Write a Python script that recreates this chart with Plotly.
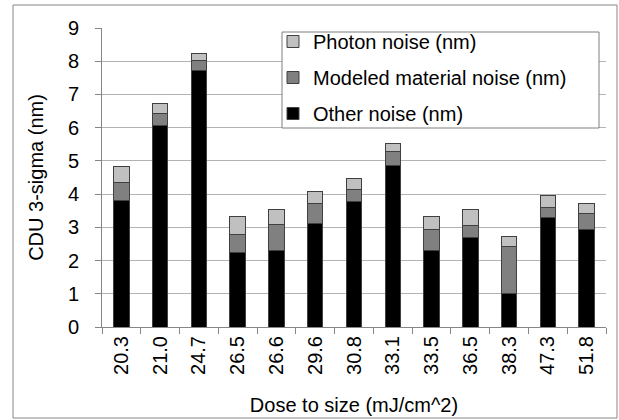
import plotly.graph_objects as go

categories = ["20.3", "21.0", "24.7", "26.5", "26.6", "29.6", "30.8", "33.1", "33.5", "36.5", "38.3", "47.3", "51.8"]
other_noise = [3.82, 6.07, 7.71, 2.23, 2.31, 3.13, 3.77, 4.86, 2.31, 2.68, 1.01, 3.31, 2.94]
material_noise = [0.53, 0.35, 0.30, 0.56, 0.77, 0.60, 0.36, 0.41, 0.62, 0.37, 1.40, 0.30, 0.49]
photon_noise = [0.48, 0.30, 0.22, 0.53, 0.46, 0.35, 0.34, 0.25, 0.39, 0.49, 0.31, 0.35, 0.30]
y_ticks = [0, 1, 2, 3, 4, 5, 6, 7, 8, 9]

FONT = "Liberation Sans"
FS = 20
line = dict(color="#404040", width=1)

fig = go.Figure()
fig.add_trace(go.Bar(x=categories, y=other_noise, name="Other noise (nm)",
                     marker=dict(color="#000000", line=line), legendgroup="c", legendrank=3))
fig.add_trace(go.Bar(x=categories, y=material_noise, name="Modeled material noise (nm)",
                     marker=dict(color="#808080", line=line), legendgroup="b", legendrank=2))
fig.add_trace(go.Bar(x=categories, y=photon_noise, name="Photon noise (nm)",
                     marker=dict(color="#c0c0c0", line=line), legendgroup="a", legendrank=1))

L, R, T, B = 102, 13, 28, 93
W, H = 619, 420
pw, ph = W - L - R, H - T - B

def px_x(p):
    return (p - L) / pw

def px_y(p):
    return (H - B - p) / ph

fig.update_layout(
    width=W, height=H,
    margin=dict(l=L, r=R, t=T, b=B, autoexpand=False),
    barmode="stack",
    bargap=0.6,
    paper_bgcolor="white",
    plot_bgcolor="white",
    font=dict(family=FONT, size=FS, color="#000000"),
    showlegend=True,
    legend=dict(
        x=px_x(273), y=px_y(22), xanchor="left", yanchor="top",
        traceorder="grouped", tracegroupgap=7,
        bgcolor="rgba(0,0,0,0)", borderwidth=0,
        font=dict(family=FONT, size=FS, color="#000000"),
    ),
    xaxis=dict(
        type="category",
        tickangle=-90,
        tickson="boundaries",
        ticks="outside", ticklen=6, tickcolor="#868686",
        showline=True, linecolor="#868686", linewidth=1,
        showgrid=False,
        tickfont=dict(family=FONT, size=FS, color="#000000"),
        title=dict(text="Dose to size (mJ/cm^2)", standoff=24,
                   font=dict(family=FONT, size=FS, color="#000000")),
        automargin=False,
    ),
    yaxis=dict(
        range=[0, 9],
        tickvals=y_ticks,
        ticks="outside", ticklen=6, tickcolor="#868686",
        showline=True, linecolor="#868686", linewidth=1,
        showgrid=True, gridcolor="#b3b3b3", gridwidth=1,
        zeroline=False,
        ticklabelstandoff=12,
        tickfont=dict(family=FONT, size=FS, color="#000000"),
        title=dict(text="CDU 3-sigma (nm)", standoff=18,
                   font=dict(family=FONT, size=FS, color="#000000")),
        automargin=False,
    ),
    shapes=[
        dict(type="rect", xref="paper", yref="paper",
             x0=px_x(13), x1=px_x(617), y0=px_y(418), y1=px_y(5),
             line=dict(color="#868686", width=1), fillcolor="rgba(0,0,0,0)",
             layer="below"),
        dict(type="rect", xref="paper", yref="paper",
             x0=px_x(282), x1=px_x(599), y0=px_y(128), y1=px_y(32),
             line=dict(color="#7f7f7f", width=1), fillcolor="white",
             layer="above"),
    ],
)

fig.write_html("out.html")
